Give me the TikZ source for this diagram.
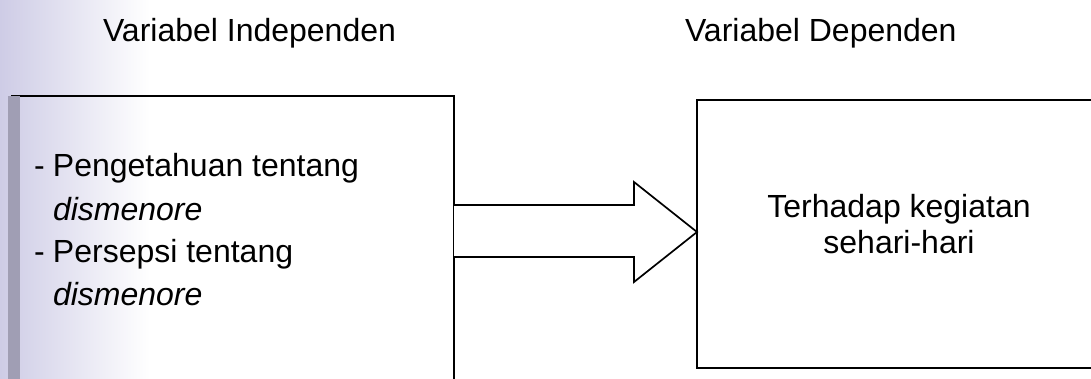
\documentclass[tikz,border=0pt]{standalone}
\usepackage{fontspec}
\setmainfont{Liberation Sans}
\begin{document}
\begin{tikzpicture}[x=1pt,y=1pt,
  every node/.style={inner sep=0pt, outer sep=0pt},
  varbox/.style={draw=black, line width=1.8pt, rectangle},
  title/.style={font=\fontsize{32}{38}\selectfont, anchor=base west},
  item/.style={font=\fontsize{32}{38}\selectfont, anchor=base west},
  blockarrow/.style={draw=black, line width=1.7pt, fill=white, line join=miter}
]
\definecolor{haze}{RGB}{206,204,230}
\definecolor{band}{RGB}{160,158,180}
\useasboundingbox (0,0) rectangle (1091,378);
\clip (0,0) rectangle (1091,378);

% soft tint along the left margin
\shade[left color=haze, right color=white] (0,0) rectangle (150,378);

% column headings
\node[title] (thIndep) at (103,336) {Variabel Independen};
\node[title] (thDep)   at (685,336) {Variabel Dependen};

% the two variable boxes (running past the picture edge)
\node[varbox, minimum width=442pt, minimum height=290pt] (indep) at (233,137) {};
\node[varbox, minimum width=403pt, minimum height=268pt] (dep) at (898.5,144) {};

% darker band on the left edge of the first box
\fill[band] (8,-10) rectangle (20,282);

% independent variables
\node[item] (i1) at (34,201) {\makebox[19pt][l]{-}Pengetahuan tentang};
\node[item] (i2) at (53,158) {\textit{dismenore}};
\node[item] (i3) at (34,116) {\makebox[19pt][l]{-}Persepsi tentang};
\node[item] (i4) at (53,73)  {\textit{dismenore}};

% dependent variable
\node[item, anchor=base] (d1) at (899,161) {Terhadap kegiatan};
\node[item, anchor=base] (d2) at (899,125) {sehari-hari};

% block arrow from the first box to the second
\coordinate (tip) at (dep.west |- 0,146);
\draw[blockarrow]
  (indep.east |- 0,173) -- ([xshift=-63pt]tip |- 0,173)
  -- ([xshift=-63pt]tip |- 0,196) -- (tip)
  -- ([xshift=-63pt]tip |- 0,96) -- ([xshift=-63pt]tip |- 0,121)
  -- (indep.east |- 0,121);
\end{tikzpicture}
\end{document}
